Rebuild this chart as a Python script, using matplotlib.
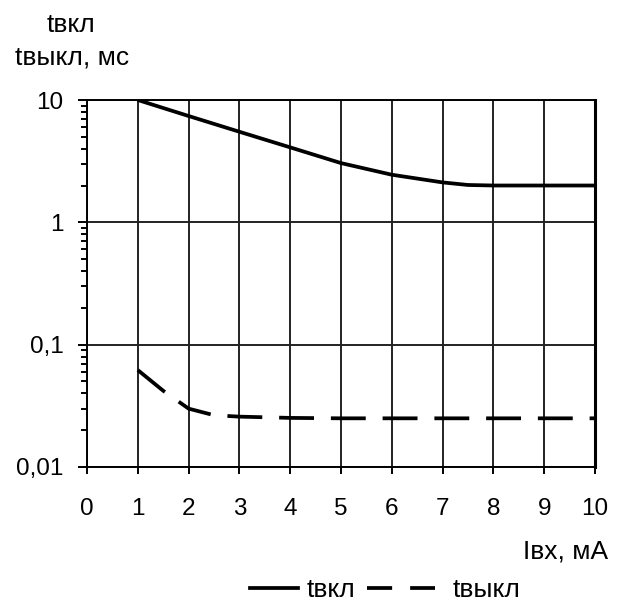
import numpy as np
import matplotlib.pyplot as plt
from matplotlib.lines import Line2D
from matplotlib.ticker import LogLocator, NullFormatter

plt.rcParams['font.family'] = ['Liberation Sans', 'DejaVu Sans']

# tвкл, ms
i_on = [1, 2, 3, 4, 5, 6, 7, 7.5, 8, 9, 10]
t_on = [10, 7.4, 5.5, 4.1, 3.05, 2.45, 2.12, 2.02, 2.0, 2.0, 2.0]

# tвыкл, ms
i_off = [1, 1.5, 2, 2.5, 3, 4, 5, 6, 7, 8, 9, 10]
t_off = [0.062, 0.042, 0.030, 0.0265, 0.0258, 0.0252, 0.025, 0.025, 0.025, 0.025, 0.025, 0.025]

x_ticks = list(range(0, 11))
y_ticks = [0.01, 0.1, 1, 10]
y_labels = ['0,01', '0,1', '1', '10']

FS = 17.5   # tick labels
FT = 19     # cyrillic labels
LW = 2.7

fig = plt.figure(figsize=(6.23, 6.03), dpi=100)
ax = fig.add_axes([87/623, (603-467)/603, (595-87)/623, (467-100)/603])

ax.plot(i_on, t_on, color='black', lw=LW, solid_capstyle='butt')
ax.plot(i_off, t_off, color='black', lw=LW, dashes=(9.3, 4.5), dash_capstyle='butt')

ax.set_yscale('log')
ax.set_xlim(0, 10)
ax.set_ylim(0.01, 10)
ax.set_xticks(x_ticks)
ax.set_yticks(y_ticks)
ax.set_yticklabels(y_labels)
ax.yaxis.set_minor_locator(LogLocator(base=10, subs=np.arange(2, 10)))
ax.yaxis.set_minor_formatter(NullFormatter())

ax.grid(True, which='major', color='#222222', lw=1.4)
for s in ax.spines.values():
    s.set_linewidth(1.4)
ax.spines['right'].set_linewidth(2.2)

ax.tick_params(axis='both', which='major', direction='out', width=1.4,
               labelsize=FS, colors='black')
ax.tick_params(axis='x', which='major', length=5, pad=17)
ax.tick_params(axis='y', which='major', length=6.5, pad=10.5)
ax.tick_params(axis='y', which='minor', direction='out', length=4.3, width=1.4)
ax.tick_params(axis='x', which='minor', length=0)

fig.text(47/623, 1 - 32/603, 'tвкл', fontsize=FT, va='baseline', ha='left')
fig.text(15/623, 1 - 65/603, 'tвыкл, мс', fontsize=FT, va='baseline', ha='left')
fig.text(608/623, 1 - 558/603, 'Iвх, мА', fontsize=FT, va='baseline', ha='right')

fig.legend([Line2D([], [], color='black', lw=LW)], ['tвкл'],
           loc='center left', bbox_to_anchor=(250/623, 1 - 590/603),
           frameon=False, fontsize=FT, handlelength=1.82, handletextpad=0.34,
           borderpad=0, borderaxespad=0)
fig.legend([Line2D([], [], color='black', lw=LW, dashes=(6.7, 4.8))], ['tвыкл'],
           loc='center left', bbox_to_anchor=(367/623, 1 - 590/603),
           frameon=False, fontsize=FT, handlelength=2.58, handletextpad=0.68,
           borderpad=0, borderaxespad=0)

fig.savefig('out.png', dpi=100)
